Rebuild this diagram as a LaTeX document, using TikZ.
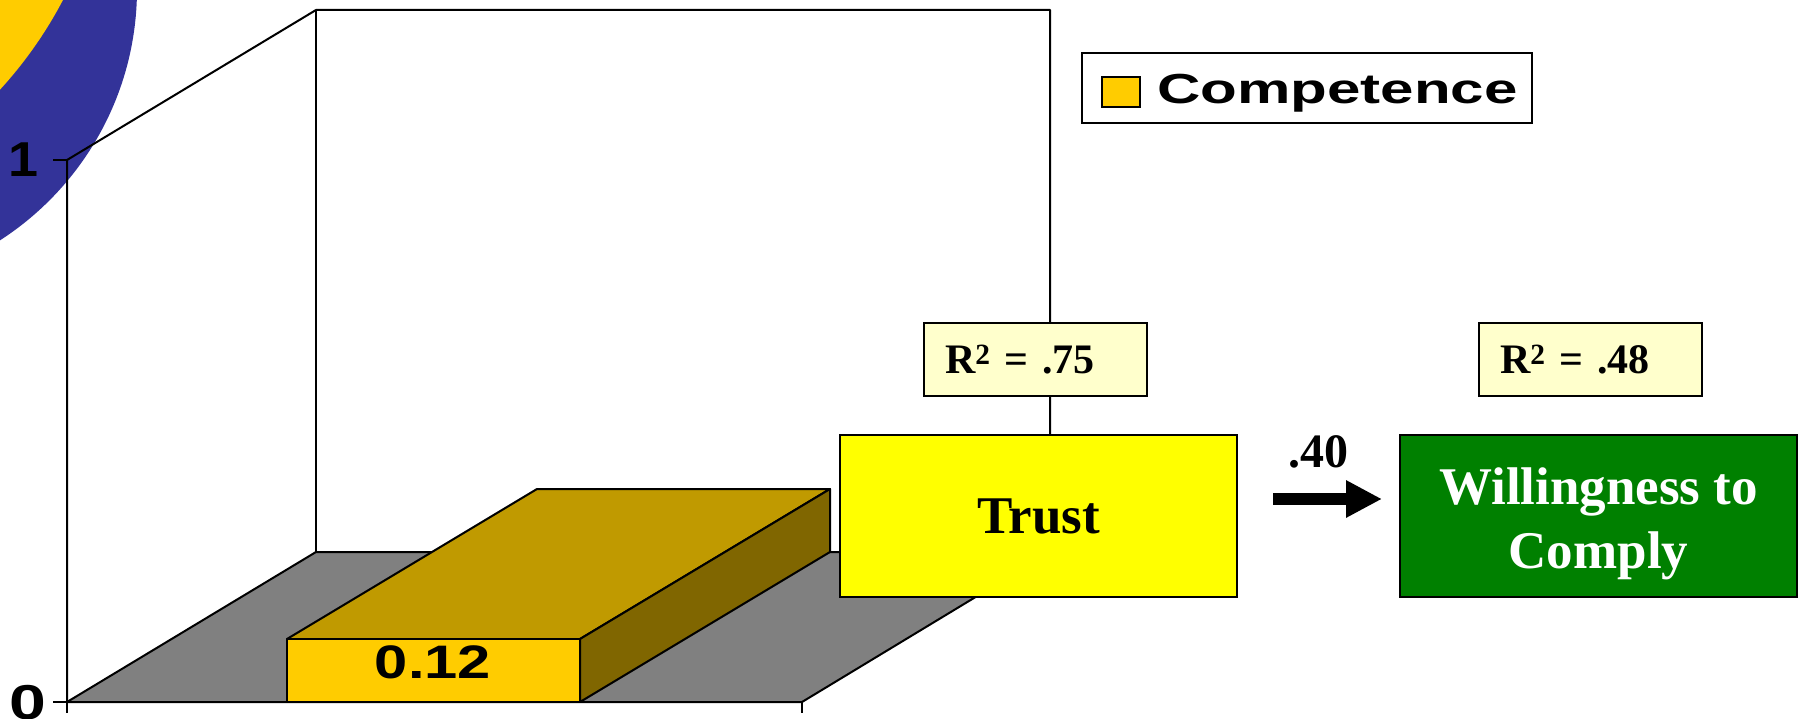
\documentclass[tikz,border=0pt]{standalone}
\usepackage{fontspec}
\setmainfont{Liberation Serif}
\newfontfamily\chartfont{Liberation Sans}
\usetikzlibrary{arrows.meta}

\definecolor{ringblue}{HTML}{333399}
\definecolor{discyellow}{HTML}{FFCC00}
\definecolor{floorgray}{HTML}{808080}
\definecolor{bartop}{HTML}{C09A00}
\definecolor{barside}{HTML}{806600}
\definecolor{trustyellow}{HTML}{FFFF00}
\definecolor{notecream}{HTML}{FFFFCC}
\definecolor{complygreen}{HTML}{008000}

\begin{document}
\begin{tikzpicture}[x=1pt,y=-1pt,
  chartline/.style={line width=2pt, line join=round},
  faceedge/.style={draw=black, line width=2pt, line join=round},
  chartlabel/.style={font=\chartfont\bfseries\fontsize{49}{49}\selectfont, inner sep=0pt},
  constructbox/.style={draw=black, line width=2pt, minimum width=397pt, minimum height=162pt,
    inner sep=0pt, align=center, font=\bfseries\fontsize{53}{64}\selectfont},
  rsquarebox/.style={draw=black, line width=2pt, fill=notecream, minimum height=73pt,
    inner xsep=21pt, inner ysep=0pt, text width=181pt, align=left,
    font=\bfseries\fontsize{42}{42}\selectfont},
  bigarrow/.style={line width=12pt, -{Triangle[length=36pt,width=35pt]}}]

\useasboundingbox (0,0) rectangle (1804,719);

% decorative arcs in the corner
\begin{scope}
  \clip (0,0) rectangle (1804,719);
  \fill[ringblue] (-162,-11) circle[radius=299pt];
  \fill[discyellow] (-312,-196) circle[radius=423pt];
\end{scope}

% chart floor
\filldraw[fill=floorgray, chartline] (67,702) -- (316,552) -- (1050,552) -- (802,702) -- cycle;

% chart walls
\draw[chartline] (67,702) -- (67,160) -- (316,10) -- (1050,10) -- (1050,552);
\draw[chartline] (316,10) -- (316,552);

% axis ticks
\draw[chartline] (53,160) -- (67,160);
\draw[chartline] (53,702) -- (67,702);
\draw[chartline] (67,702) -- (67,713);
\draw[chartline] (802,702) -- (802,713);

% axis labels
\node[chartlabel, anchor=east] (ymax) at (39,160) {\scalebox{1.1}[1]{1}};
\node[chartlabel, anchor=east] (ymin) at (46,703) {\scalebox{1.35}[1]{0}};

% the competence bar
\filldraw[fill=bartop, faceedge] (287,639) -- (580,639) -- (830,489) -- (537,489) -- cycle;
\filldraw[fill=barside, faceedge] (580,639) -- (830,489) -- (830,552) -- (580,702) -- cycle;
\filldraw[fill=discyellow, faceedge] (287,639) rectangle (580,702);
\node[font=\chartfont\bfseries\fontsize{47}{47}\selectfont, inner sep=0pt] (barvalue)
  at (433,662) {\scalebox{1.27}[1]{0.12}};

% legend
\node[draw=black, line width=1.5pt, fill=white, minimum width=450pt, minimum height=70pt,
  inner sep=0pt] (legend) at (1307,88) {};
\node[draw=black, line width=1.5pt, fill=discyellow, minimum width=38pt, minimum height=30pt,
  inner sep=0pt] (legendkey) at (1121,92) {};
\node[font=\chartfont\bfseries\fontsize{42}{42}\selectfont, inner sep=0pt, anchor=base west]
  (legendtext) at (1157,104) {\scalebox{1.43}[1]{Competence}};

% path model boxes
\node[rsquarebox] (rtrust) at (1035.5,359.5) {R\textsuperscript{2} = .75};
\node[rsquarebox] (rcomply) at (1590.5,359.5) {R\textsuperscript{2} = .48};
\node[constructbox, fill=trustyellow] (trust) at (1038.5,516) {Trust};
\node[constructbox, fill=complygreen, text=white] (comply) at (1598.5,516)
  {\rule{0pt}{53pt}Willingness to\\Comply};

% path coefficient
\coordinate (arrowtail) at ([xshift=35pt,yshift=17pt]trust.east);
\coordinate (arrowhead) at ([xshift=-17pt]comply.west |- arrowtail);
\draw[bigarrow] (arrowtail) -- (arrowhead);
\node[font=\bfseries\fontsize{48}{48}\selectfont, inner sep=0pt, anchor=base]
  (coef) at (1318,467) {.40};

\end{tikzpicture}
\end{document}
